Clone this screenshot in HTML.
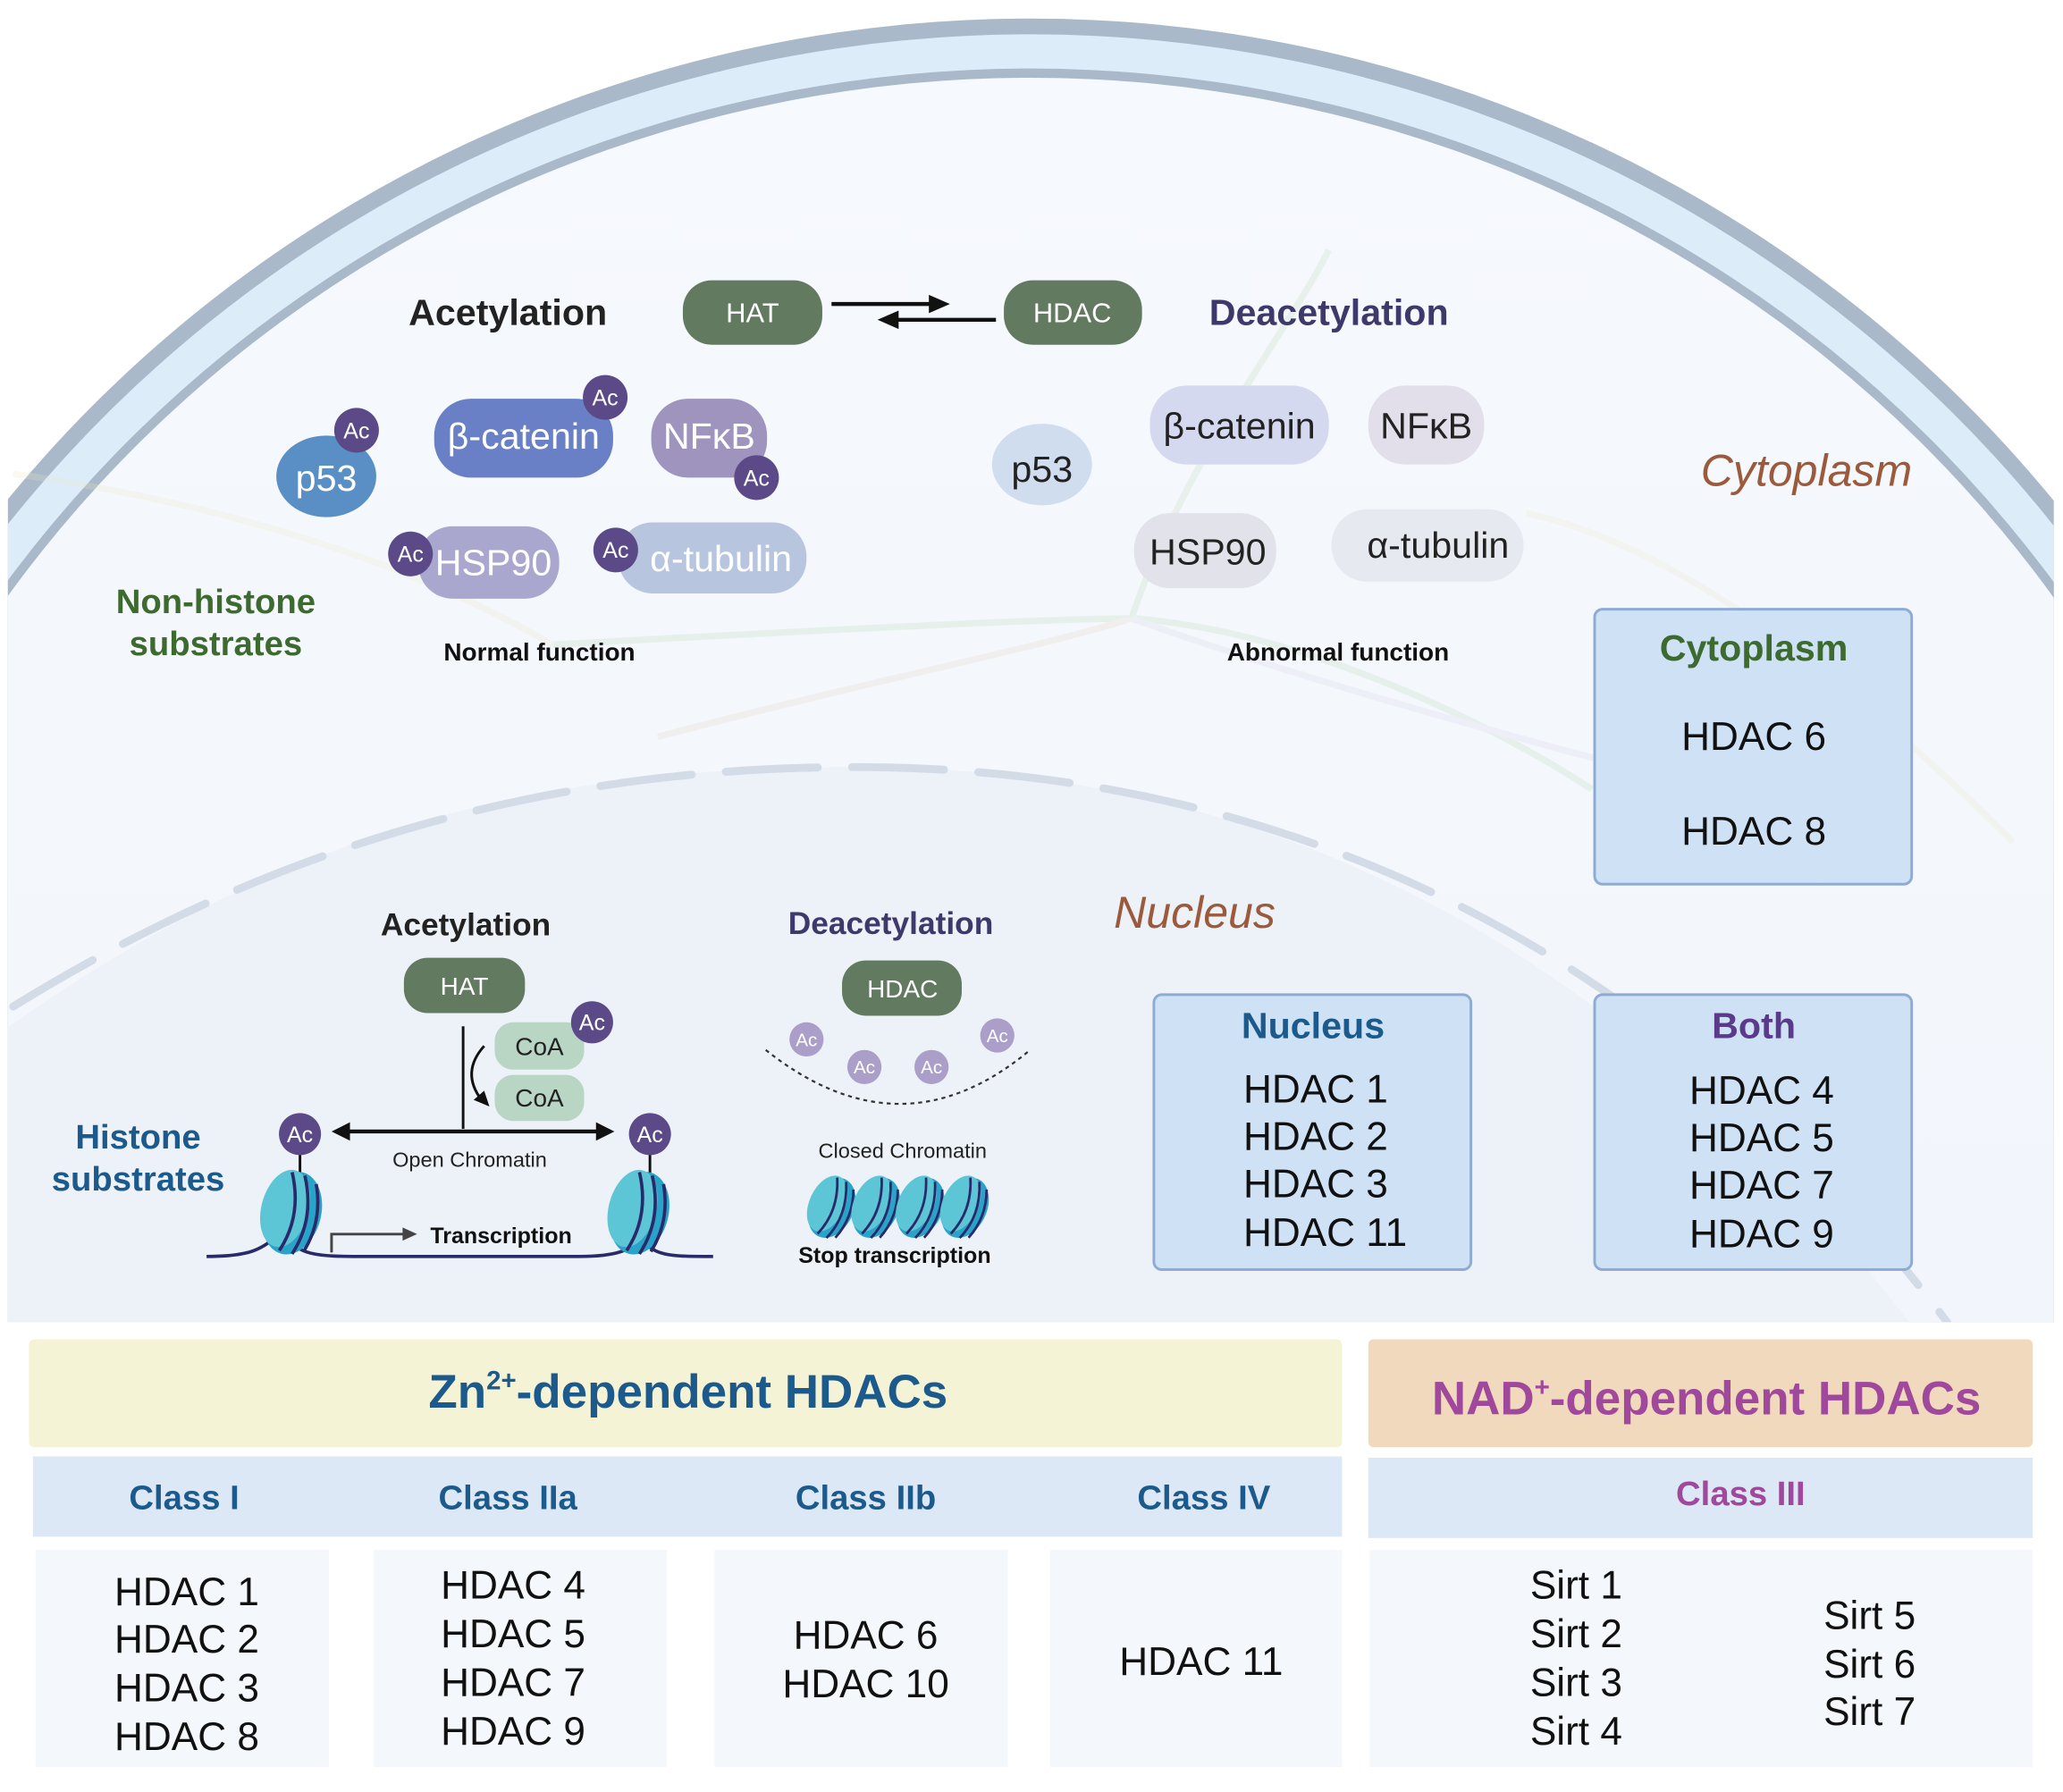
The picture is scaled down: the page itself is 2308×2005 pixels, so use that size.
<!DOCTYPE html>
<html><head><meta charset="utf-8"><style>
html,body{margin:0;padding:0;background:#fff;width:2308px;height:2005px;overflow:hidden;}
svg{display:block;}
text{font-family:"Liberation Sans",sans-serif;}
</style></head><body>
<svg width="2308" height="2005" viewBox="0 0 1568 1362" xmlns="http://www.w3.org/2000/svg">
<defs>
<clipPath id="cell"><rect x="6" y="0" width="1555" height="1005"/></clipPath>
<linearGradient id="cg" x1="0" y1="0" x2="0" y2="1"><stop offset="0" stop-color="#f6f9fd"/><stop offset="1" stop-color="#eef3fa"/></linearGradient>
<g id="nuc">
<ellipse cx="0" cy="0" rx="22" ry="32" fill="#2aa3c9"/>
<ellipse cx="-6" cy="-2" rx="18" ry="30" fill="#5cc6d6"/>
<path d="M-8,-30 Q8,0 -2,30 M2,-30 Q18,0 8,30 M12,-26 Q24,0 16,26" stroke="#2a2a6a" stroke-width="2.5" fill="none"/>
</g>
</defs>
<g clip-path="url(#cell)">
<ellipse cx="783" cy="1000" rx="1000" ry="986" fill="#a9b9c9"/>
<ellipse cx="783" cy="1000" rx="988" ry="974" fill="#ddecf9"/>
<ellipse cx="783" cy="1000" rx="962" ry="948" fill="#a9b9c9"/>
<ellipse cx="783" cy="1000" rx="955" ry="941" fill="url(#cg)"/>
<path d="M-20,800 C220,620 430,583 650,583 C950,583 1250,700 1520,1100 L1520,1010 L-20,1010 Z" fill="#edf2f9"/>
<path d="M10,765 C220,635 430,583 650,583 C950,583 1250,700 1480,1005" fill="none" stroke="#d2dbe6" stroke-width="6" stroke-dasharray="70 26" stroke-linecap="round"/>
<g stroke-width="5" fill="none" opacity="0.22">
<path d="M420,490 C600,480 800,470 860,470 C1000,480 1150,560 1210,600" stroke="#b9d6b0"/>
<path d="M500,560 C650,520 800,490 860,470" stroke="#e8cfc0"/>
<path d="M860,470 C900,350 980,250 1010,190" stroke="#b9d6b0"/>
<path d="M10,360 C150,380 300,420 420,490" stroke="#efe6c6"/>
<path d="M860,470 C1000,520 1150,560 1300,600" stroke="#d6d0e6"/>
<path d="M1160,390 C1300,420 1450,560 1530,640" stroke="#efe6c6"/>
</g>
</g>
<!-- top cytoplasm -->
<text x="386" y="247" font-size="28" font-weight="bold" fill="#222" text-anchor="middle">Acetylation</text>
<rect x="519" y="213" width="106" height="49" rx="22" fill="#627a60"/>
<text x="572" y="245" font-size="21" fill="#fff" text-anchor="middle">HAT</text>
<rect x="763" y="213" width="105" height="49" rx="22" fill="#627a60"/>
<text x="815" y="245" font-size="21" fill="#fff" text-anchor="middle">HDAC</text>
<path d="M632,231 L712,231" stroke="#111" stroke-width="3"/><path d="M722,231 L706,224 L706,238Z" fill="#111"/>
<path d="M757,243 L676,243" stroke="#111" stroke-width="3"/><path d="M667,243 L683,236 L683,250Z" fill="#111"/>
<text x="1010" y="247" font-size="28" font-weight="bold" fill="#3d3a6b" text-anchor="middle">Deacetylation</text>

<ellipse cx="248" cy="362" rx="38" ry="31" fill="#5a8fc6"/>
<text x="248" y="373" font-size="28" fill="#fff" text-anchor="middle">p53</text>
<rect x="330" y="303" width="136" height="60" rx="28" fill="#6a80c6"/>
<text x="398" y="341" font-size="28" fill="#fff" text-anchor="middle">β-catenin</text>
<rect x="495" y="303" width="88" height="60" rx="28" fill="#9e94be"/>
<text x="539" y="341" font-size="28" fill="#fff" text-anchor="middle">NFκB</text>
<rect x="318" y="400" width="107" height="55" rx="26" fill="#a9a7cd"/>
<text x="375" y="437" font-size="28" fill="#fff" text-anchor="middle">HSP90</text>
<rect x="470" y="397" width="143" height="54" rx="26" fill="#b8c5df"/>
<text x="548" y="434" font-size="28" fill="#fff" text-anchor="middle">α-tubulin</text>
<g font-size="17" fill="#fff" text-anchor="middle">
<circle cx="271" cy="327" r="17" fill="#5b4a87"/><text x="271" y="333">Ac</text>
<circle cx="460" cy="302" r="17" fill="#5b4a87"/><text x="460" y="308">Ac</text>
<circle cx="575" cy="363" r="17" fill="#5b4a87"/><text x="575" y="369">Ac</text>
<circle cx="312" cy="421" r="17" fill="#5b4a87"/><text x="312" y="427">Ac</text>
<circle cx="468" cy="418" r="17" fill="#5b4a87"/><text x="468" y="424">Ac</text>
</g>
<text x="164" y="466" font-size="26" font-weight="bold" fill="#3c6a2f" text-anchor="middle">Non-histone</text>
<text x="164" y="498" font-size="26" font-weight="bold" fill="#3c6a2f" text-anchor="middle">substrates</text>
<text x="410" y="502" font-size="19" font-weight="bold" fill="#111" text-anchor="middle">Normal function</text>

<ellipse cx="792" cy="353" rx="38" ry="31" fill="#d0ddef"/>
<text x="792" y="366" font-size="28" fill="#222" text-anchor="middle">p53</text>
<rect x="874" y="293" width="136" height="60" rx="28" fill="#d4d9f0"/>
<text x="942" y="333" font-size="28" fill="#222" text-anchor="middle">β-catenin</text>
<rect x="1040" y="293" width="88" height="60" rx="28" fill="#e2dfea"/>
<text x="1084" y="333" font-size="28" fill="#222" text-anchor="middle">NFκB</text>
<rect x="862" y="390" width="108" height="57" rx="27" fill="#e2e2eb"/>
<text x="918" y="429" font-size="28" fill="#222" text-anchor="middle">HSP90</text>
<rect x="1012" y="387" width="146" height="55" rx="27" fill="#e7e9f0"/>
<text x="1093" y="424" font-size="28" fill="#222" text-anchor="middle">α-tubulin</text>
<text x="1017" y="502" font-size="19" font-weight="bold" fill="#111" text-anchor="middle">Abnormal function</text>
<text x="1373" y="369" font-size="34" font-style="italic" fill="#9c5a3c" text-anchor="middle">Cytoplasm</text>

<rect x="1212" y="463" width="241" height="209" rx="6" fill="#cfe1f4" stroke="#8eabd3" stroke-width="2"/>
<text x="1333" y="502" font-size="28" font-weight="bold" fill="#3c6a2f" text-anchor="middle">Cytoplasm</text>
<text x="1333" y="570" font-size="30" fill="#111" text-anchor="middle">HDAC 6</text>
<text x="1333" y="642" font-size="30" fill="#111" text-anchor="middle">HDAC 8</text>

<text x="908" y="705" font-size="34" font-style="italic" fill="#9c5a3c" text-anchor="middle">Nucleus</text>
<rect x="877" y="756" width="241" height="209" rx="6" fill="#cfe1f4" stroke="#8eabd3" stroke-width="2"/>
<text x="998" y="789" font-size="28" font-weight="bold" fill="#1d5a8c" text-anchor="middle">Nucleus</text>
<g font-size="30" fill="#111"><text x="945" y="838">HDAC 1</text><text x="945" y="874">HDAC 2</text><text x="945" y="910">HDAC 3</text><text x="945" y="947">HDAC 11</text></g>
<rect x="1212" y="756" width="241" height="209" rx="6" fill="#cfe1f4" stroke="#8eabd3" stroke-width="2"/>
<text x="1333" y="789" font-size="28" font-weight="bold" fill="#5b3a8c" text-anchor="middle">Both</text>
<g font-size="30" fill="#111"><text x="1284" y="839">HDAC 4</text><text x="1284" y="875">HDAC 5</text><text x="1284" y="911">HDAC 7</text><text x="1284" y="948">HDAC 9</text></g>

<!-- nucleus acetylation -->
<text x="354" y="711" font-size="24" font-weight="bold" fill="#222" text-anchor="middle">Acetylation</text>
<rect x="307" y="728" width="92" height="42" rx="18" fill="#627a60"/>
<text x="353" y="756" font-size="19" fill="#fff" text-anchor="middle">HAT</text>
<line x1="352" y1="780" x2="352" y2="858" stroke="#111" stroke-width="2"/>
<rect x="376" y="777" width="68" height="36" rx="14" fill="#b9d6c5"/>
<text x="410" y="802" font-size="19" fill="#222" text-anchor="middle">CoA</text>
<rect x="376" y="817" width="68" height="35" rx="14" fill="#b9d6c5"/>
<text x="410" y="841" font-size="19" fill="#222" text-anchor="middle">CoA</text>
<path d="M368,795 Q350,815 366,836" stroke="#111" stroke-width="2" fill="none"/><path d="M372,841 L360,836 L368,829Z" fill="#111"/>
<line x1="262" y1="860" x2="458" y2="860" stroke="#111" stroke-width="3"/>
<path d="M252,860 L266,853 L266,867Z" fill="#111"/><path d="M467,860 L453,853 L453,867Z" fill="#111"/>
<text x="357" y="887" font-size="16" fill="#222" text-anchor="middle">Open Chromatin</text>
<line x1="228" y1="876" x2="228" y2="895" stroke="#111" stroke-width="2"/>
<line x1="494" y1="876" x2="494" y2="895" stroke="#111" stroke-width="2"/>
<path d="M157,955 C190,955 200,950 215,935 C225,955 240,955 280,955 L440,955 C470,955 480,950 488,940 C495,955 510,955 542,955" stroke="#2a2a6a" stroke-width="2.5" fill="none"/>
<use href="#nuc" transform="translate(222,922) rotate(15)"/>
<use href="#nuc" transform="translate(486,922) rotate(15)"/>
<g font-size="17" fill="#fff" text-anchor="middle">
<circle cx="450" cy="777" r="16" fill="#5b4a87"/><text x="450" y="783">Ac</text>
<circle cx="228" cy="862" r="16" fill="#5b4a87"/><text x="228" y="868">Ac</text>
<circle cx="494" cy="862" r="16" fill="#5b4a87"/><text x="494" y="868">Ac</text>
</g>
<path d="M252,952 L252,938 L308,938" stroke="#444" stroke-width="2" fill="none"/><path d="M317,938 L306,933 L306,943Z" fill="#444"/>
<text x="327" y="945" font-size="17" font-weight="bold" fill="#111">Transcription</text>
<text x="105" y="873" font-size="26" font-weight="bold" fill="#1d5a8c" text-anchor="middle">Histone</text>
<text x="105" y="905" font-size="26" font-weight="bold" fill="#1d5a8c" text-anchor="middle">substrates</text>

<text x="677" y="710" font-size="24" font-weight="bold" fill="#3d3a6b" text-anchor="middle">Deacetylation</text>
<rect x="640" y="730" width="91" height="42" rx="18" fill="#627a60"/>
<text x="686" y="758" font-size="19" fill="#fff" text-anchor="middle">HDAC</text>
<path d="M582,798 Q685,880 783,798" stroke="#333" stroke-width="1.5" stroke-dasharray="3 3" fill="none"/>
<g font-size="14" fill="#fff" text-anchor="middle">
<circle cx="613" cy="790" r="13" fill="#ab9fc9"/><text x="613" y="795">Ac</text>
<circle cx="657" cy="811" r="13" fill="#ab9fc9"/><text x="657" y="816">Ac</text>
<circle cx="708" cy="811" r="13" fill="#ab9fc9"/><text x="708" y="816">Ac</text>
<circle cx="758" cy="787" r="13" fill="#ab9fc9"/><text x="758" y="792">Ac</text>
</g>
<text x="686" y="880" font-size="16" fill="#222" text-anchor="middle">Closed Chromatin</text>
<g transform="scale(0.75)">
<use href="#nuc" transform="translate(843,1224) rotate(25)"/>
<use href="#nuc" transform="translate(888,1224) rotate(25)"/>
<use href="#nuc" transform="translate(933,1224) rotate(25)"/>
<use href="#nuc" transform="translate(978,1224) rotate(25)"/>
</g>
<text x="680" y="960" font-size="17" font-weight="bold" fill="#111" text-anchor="middle">Stop transcription</text>

<!-- table -->
<rect x="22" y="1018" width="998" height="82" rx="4" fill="#f5f3d6"/>
<text x="523" y="1070" font-size="36" font-weight="bold" fill="#1d5a8c" text-anchor="middle">Zn<tspan font-size="20" dy="-14">2+</tspan><tspan dy="14">-dependent HDACs</tspan></text>
<rect x="1040" y="1018" width="505" height="82" rx="4" fill="#f0d9bc"/>
<text x="1297" y="1075" font-size="36" font-weight="bold" fill="#a0489b" text-anchor="middle">NAD<tspan font-size="20" dy="-14">+</tspan><tspan dy="14">-dependent HDACs</tspan></text>
<rect x="25" y="1107" width="995" height="61" fill="#dce8f6"/>
<rect x="1040" y="1108" width="505" height="61" fill="#dce8f6"/>
<g font-size="26" font-weight="bold" fill="#1d5a8c" text-anchor="middle">
<text x="140" y="1147">Class I</text><text x="386" y="1147">Class IIa</text><text x="658" y="1147">Class IIb</text><text x="915" y="1147">Class IV</text>
</g>
<text x="1323" y="1144" font-size="26" font-weight="bold" fill="#a0489b" text-anchor="middle">Class III</text>
<g fill="#f4f7fc">
<rect x="27" y="1178" width="223" height="165"/><rect x="284" y="1178" width="223" height="165"/><rect x="543" y="1178" width="223" height="165"/><rect x="798" y="1178" width="222" height="165"/><rect x="1041" y="1178" width="504" height="165"/>
</g>
<g font-size="30" fill="#111">
<text x="87" y="1220">HDAC 1</text><text x="87" y="1256">HDAC 2</text><text x="87" y="1293">HDAC 3</text><text x="87" y="1330">HDAC 8</text>
<text x="335" y="1215">HDAC 4</text><text x="335" y="1252">HDAC 5</text><text x="335" y="1289">HDAC 7</text><text x="335" y="1326">HDAC 9</text>
<text x="658" y="1253" text-anchor="middle">HDAC 6</text><text x="658" y="1290" text-anchor="middle">HDAC 10</text>
<text x="913" y="1273" text-anchor="middle">HDAC 11</text>
<text x="1163" y="1215">Sirt 1</text><text x="1163" y="1252">Sirt 2</text><text x="1163" y="1289">Sirt 3</text><text x="1163" y="1326">Sirt 4</text>
<text x="1386" y="1238">Sirt 5</text><text x="1386" y="1275">Sirt 6</text><text x="1386" y="1311">Sirt 7</text>
</g>
</svg>
</body></html>
